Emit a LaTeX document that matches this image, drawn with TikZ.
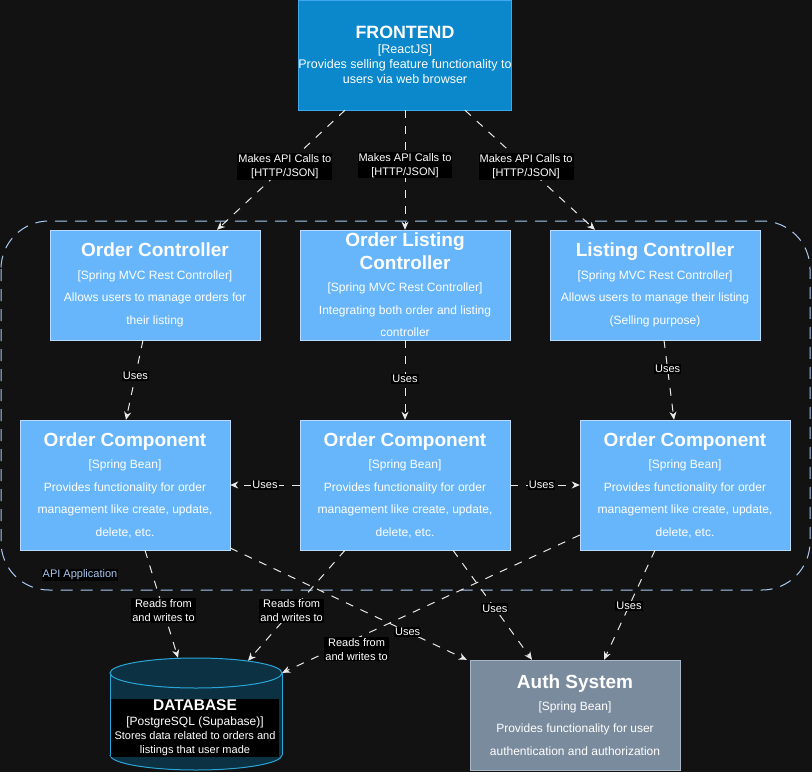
\documentclass[tikz,border=0pt]{standalone}
\usepackage{fontspec}
\setmainfont{Liberation Sans}
\usetikzlibrary{arrows.meta}
\definecolor{bgcol}{HTML}{121212}
\definecolor{fefill}{HTML}{0A88CB}
\definecolor{feline}{HTML}{3DA8EE}
\definecolor{compfill}{HTML}{67B6FC}
\definecolor{compline}{HTML}{B9DBFF}
\definecolor{authfill}{HTML}{7A8B9D}
\definecolor{authline}{HTML}{A9B7C6}
\definecolor{dbfill}{HTML}{0B3142}
\definecolor{dbline}{HTML}{2AA5D8}
\definecolor{boundcol}{HTML}{A8C8F0}
\definecolor{linkcol}{HTML}{E8E8E8}
\newcommand{\comptitle}{\fontsize{19}{23}\selectfont\bfseries}

\begin{document}
\begin{tikzpicture}[x=1pt,y=-1pt,
    comp/.style={draw=compline, fill=compfill, text=white, align=center, inner sep=0pt,
      minimum width=210pt, minimum height=110pt, font=\fontsize{12}{22.5}\selectfont},
    link/.style={draw=linkcol, line width=1pt, dash pattern=on 8pt off 8pt,
      -{Stealth[length=8pt,width=7pt,inset=2.5pt]}},
    lbl/.style={fill=black, text=white, inner sep=1pt, align=center,
      font=\fontsize{11}{14}\selectfont}]
  \useasboundingbox[fill=bgcol] (0,0) rectangle (812,772);

  % boundary of the api application
  \draw[boundcol, line width=1pt, dash pattern=on 12pt off 8pt, rounded corners=48pt]
    (1,221) rectangle (810,590);
  \node[lbl, text=boundcol] (apilbl) at (80,575) {API Application};

  \node[comp, draw=feline, fill=fefill, font=\fontsize{12.5}{15}\selectfont] (fe) at (405,55)
    {{\fontsize{17.8}{15}\selectfont\bfseries FRONTEND}\\{[ReactJS]}\\
     Provides selling feature functionality to\\users via web browser};

  \node[comp] (octrl) at (155,285) {{\comptitle Order Controller}\\{[Spring MVC Rest Controller]}\\
    Allows users to manage orders for\\their listing};
  \node[comp] (olctrl) at (405,285) {{\comptitle Order Listing}\\{\comptitle Controller}\\
    {[Spring MVC Rest Controller]}\\Integrating both order and listing\\controller};
  \node[comp] (lctrl) at (655,285) {{\comptitle Listing Controller}\\{[Spring MVC Rest Controller]}\\
    Allows users to manage their listing\\(Selling purpose)};

  \node[comp, minimum height=130pt] (c1) at (125,485) {{\comptitle Order Component}\\{[Spring Bean]}\\
    Provides functionality for order\\management like create, update,\\delete, etc.};
  \node[comp, minimum height=130pt] (c2) at (405,485) {{\comptitle Order Component}\\{[Spring Bean]}\\
    Provides functionality for order\\management like create, update,\\delete, etc.};
  \node[comp, minimum height=130pt] (c3) at (685,485) {{\comptitle Order Component}\\{[Spring Bean]}\\
    Provides functionality for order\\management like create, update,\\delete, etc.};

  \node[comp, draw=authline, fill=authfill, font=\fontsize{12}{22.2}\selectfont] (auth) at (575,715)
    {{\comptitle Auth System}\\{[Spring Bean]}\\Provides functionality for user\\authentication and authorization};

  % database cylinder
  \node[minimum width=172pt, minimum height=112pt, inner sep=0pt] (db) at (196,714) {};
  \fill[dbfill] (196,755) ellipse [x radius=86pt, y radius=15pt];
  \fill[dbfill] (110,673) rectangle (282,755);
  \begin{scope}
    \clip (100,755) rectangle (292,775);
    \draw[dbline, line width=1pt] (196,755) ellipse [x radius=86pt, y radius=15pt];
  \end{scope}
  \draw[dbline, line width=1pt] (110,673) -- (110,755);
  \draw[dbline, line width=1pt] (282,673) -- (282,755);
  \filldraw[fill=dbfill, draw=dbline, line width=1pt] (196,673) ellipse [x radius=86pt, y radius=15pt];
  \node[fill=black, text=white, inner sep=0pt, align=center, minimum width=168pt, minimum height=58pt,
    font=\fontsize{11}{14.3}\selectfont] (dbtext) at (195,728)
    {{\fontsize{15.5}{15}\selectfont\bfseries DATABASE}\\{\fontsize{12}{15}\selectfont[PostgreSQL (Supabase)]}\\
     Stores data related to orders and\\listings that user made};

  % calls from the frontend
  \draw[link] ([xshift=-60pt]fe.south) -- node[lbl, pos=0.47] (l1) {Makes API Calls to\\{[HTTP/JSON]}} ([xshift=62pt]octrl.north);
  \draw[link] (fe.south) -- node[lbl, pos=0.46] (l2) {Makes API Calls to\\{[HTTP/JSON]}} (olctrl.north);
  \draw[link] ([xshift=60pt]fe.south) -- node[lbl, pos=0.47] (l3) {Makes API Calls to\\{[HTTP/JSON]}} ([xshift=-60pt]lctrl.north);

  \draw[link] ([xshift=-12pt]octrl.south) -- node[lbl, pos=0.45] (l4) {Uses} ([xshift=1pt]c1.north);
  \draw[link] (olctrl.south) -- node[lbl, pos=0.49] (l5) {Uses} (c2.north);
  \draw[link] ([xshift=9pt]lctrl.south) -- node[lbl, pos=0.36] (l6) {Uses} ([xshift=-11pt]c3.north);

  \draw[link] (c2.west) -- node[lbl] (l7) {Uses} (c1.east);
  \draw[link] (c2.east) -- node[lbl, pos=0.45] (l8) {Uses} (c3.west);

  % to the database
  \draw[link] ([xshift=20pt]c1.south) -- node[lbl, pos=0.56] (l9) {Reads from\\and writes to} ([xshift=-18pt]db.north);
  \draw[link] ([xshift=-60pt]c2.south) -- node[lbl, pos=0.55] (l10) {Reads from\\and writes to} ([xshift=52pt,yshift=-3pt]db.north);
  \draw[link] ([yshift=-50pt]c3.west) -- node[lbl, pos=0.75, yshift=-11pt] (l11) {Reads from\\and writes to} ([yshift=-15pt]db.north east);

  % to the auth system
  \draw[link] ([yshift=-63pt]c1.east) -- node[lbl, pos=0.75] (l12) {Uses} ([xshift=-3pt]auth.north west);
  \draw[link] ([xshift=48pt]c2.south) -- node[lbl, pos=0.53] (l13) {Uses} ([xshift=-43pt]auth.north);
  \draw[link] ([xshift=-30pt]c3.south) -- node[lbl, pos=0.51] (l14) {Uses} ([xshift=29pt]auth.north);
\end{tikzpicture}
\end{document}
